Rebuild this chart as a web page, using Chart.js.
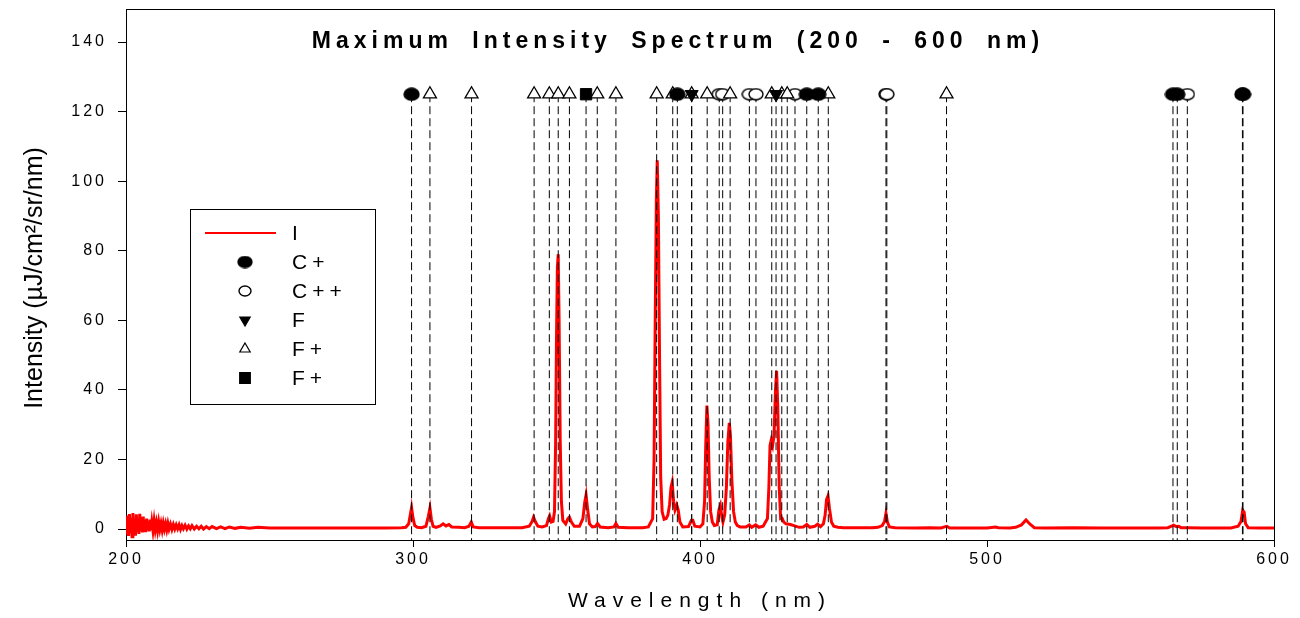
<!DOCTYPE html>
<html>
<head>
<meta charset="utf-8">
<script src="https://cdn.jsdelivr.net/npm/chart.js"></script>
<style>
  body { margin: 0; background: #fff; }
  #wrap { width: 1300px; height: 618px; }
</style>
</head>
<body>
<div id="wrap"><canvas id="spectrum" width="1300" height="618"></canvas></div>
<script>
// спектр: длина волны (нм) и интенсивность
const wavelength = [
  200.0, 200.3, 200.6, 200.9, 201.2, 201.5, 201.8, 202.1, 202.4, 202.7,
  203.0, 203.3, 203.6, 203.9, 204.2, 204.5, 204.8, 205.1, 205.4, 205.7,
  206.0, 206.3, 206.6, 206.9, 207.2, 207.5, 207.8, 208.1, 208.4, 208.7,
  209.0, 209.4, 209.8, 210.2, 210.6, 211.0, 211.4, 211.8, 212.2, 212.6,
  213.0, 213.4, 213.8, 214.2, 214.6, 215.0, 215.5, 216.0, 216.5, 217.0,
  217.5, 218.0, 218.5, 219.0, 219.5, 220.0, 220.6, 221.2, 221.8, 222.4,
  223.0, 223.8, 224.6, 225.4, 226.2, 227.0, 228.0, 229.0, 230.0, 231.5,
  233.0, 234.5, 236.0, 238.0, 240.0, 243.0, 246.0, 250.0, 260.0, 270.0,
  280.0, 290.0, 296.0,
  297.5, 298.5, 299.0, 299.5, 300.0, 300.6, 301.5, 303.0, 304.5, 305.3,
  305.9, 306.4, 307.0, 308.0, 309.5, 310.5, 311.5, 312.5, 313.5, 316.0,
  318.0, 319.5, 320.3, 321.0, 323.0, 330.0, 338.0, 340.5, 341.5, 342.0,
  342.7, 343.5, 345.0, 346.5, 347.2, 347.6, 348.2, 348.8, 349.3, 349.7,
  350.0, 350.3, 350.6, 350.9, 351.3, 351.7, 352.2, 353.2, 354.0, 354.5,
  355.2, 356.2, 358.0, 359.2, 359.8, 360.3, 360.8, 361.5, 362.5, 363.5,
  364.3, 365.2, 368.0, 370.0, 370.7, 371.5, 375.0, 380.0, 382.0, 383.5,
  384.0, 384.4, 384.8, 385.1, 385.5, 385.9, 386.3, 386.8, 387.5, 388.2,
  388.8, 389.4, 389.9, 390.3, 390.8, 391.3, 391.9, 392.4, 393.0, 394.0,
  396.0, 397.0, 397.5, 398.2, 400.0, 401.0, 401.6, 402.0, 402.4, 402.8,
  403.2, 403.7, 404.3, 405.0, 406.0, 406.6, 407.1, 407.6, 408.0, 408.6,
  409.2, 409.7, 410.2, 410.6, 411.1, 411.7, 412.3, 413.0, 414.0, 416.0,
  417.2, 418.0, 419.4, 420.5, 422.0, 423.5, 424.0, 424.4, 424.8, 425.3,
  425.8, 426.3, 426.7, 427.1, 427.6, 428.1, 428.6, 429.2, 430.0, 431.5,
  433.0, 434.5, 436.0, 437.2, 438.3, 440.0, 441.0, 442.0, 443.0, 443.6,
  444.1, 444.6, 445.1, 445.8, 446.6, 448.0, 450.0, 455.0, 460.0, 462.0,
  463.5, 464.3, 464.8, 465.3, 466.0, 468.0, 475.0, 480.0, 484.0, 485.5,
  486.0, 487.0, 495.0, 500.0, 503.0, 504.0, 508.0, 510.0, 512.0, 513.6,
  515.0, 516.5, 520.0, 530.0, 540.0, 550.0, 560.0, 563.0, 564.5, 565.0,
  566.0, 566.8, 567.6, 570.0, 575.0, 580.0, 585.0, 587.5, 588.5, 589.1,
  589.6, 590.1, 591.0, 595.0, 600.0
];
const intensity = [
  1.5, -1.6, 3.9, -2.0, 4.3, -1.2, 3.2, -2.2, 4.6, -1.5,
  2.6, -1.9, 4.2, -0.8, 3.0, -1.4, 4.4, -0.6, 3.4, -1.0,
  3.6, -0.5, 2.6, -0.9, 3.0, -0.4, 2.2, -0.7, 2.7, -0.3,
  2.0, -0.5, 2.4, -0.2, 1.8, -0.4, 2.0, -0.1, 1.6, -0.3,
  1.7, 0.0, 1.5, -0.2, 1.6, 0.0, 1.4, -0.1, 1.3, 0.0,
  1.2, 0.1, 1.2, -0.1, 1.0, 0.1, 1.1, 0.0, 0.9, 0.1,
  1.0, 0.0, 0.8, 0.1, 0.8, 0.0, 0.7, 0.1, 0.7, 0.1,
  0.6, 0.1, 0.6, 0.2, 0.5, 0.2, 0.5, 0.3, 0.3, 0.3,
  0.3, 0.3, 0.4,
  0.5, 1.5, 3.8, 6.2, 3.2, 1.0, 0.5, 0.4, 0.8, 3.5,
  6.0, 2.8, 0.8, 0.5, 0.9, 1.5, 0.9, 1.3, 0.6, 0.5,
  0.4, 0.8, 2.0, 0.6, 0.4, 0.4, 0.4, 0.8, 2.2, 3.4,
  2.0, 0.8, 0.6, 1.0, 3.0, 3.8, 2.0, 2.2, 5.0, 25.0,
  55.0, 75.0, 79.0, 60.0, 25.0, 8.0, 2.5, 1.5, 3.0, 3.4,
  2.0, 0.8, 0.8, 3.0, 7.5, 9.8, 6.0, 1.5, 0.6, 0.7,
  1.6, 0.6, 0.4, 0.6, 1.6, 0.5, 0.4, 0.4, 0.6, 3.0,
  20.0, 60.0, 95.0, 106.0, 90.0, 50.0, 15.0, 5.0, 2.8, 3.0,
  4.0, 7.0, 12.0, 13.4, 8.0, 5.5, 6.9, 5.5, 2.0, 0.6,
  0.7, 2.5, 2.5, 0.8, 0.6, 1.5, 8.0, 24.0, 35.5, 30.0,
  15.0, 5.0, 2.0, 1.0, 1.2, 5.5, 6.8, 3.5, 2.0, 4.0,
  12.0, 25.0, 30.5, 27.0, 14.0, 5.0, 2.0, 1.0, 0.6, 0.6,
  1.2, 0.5, 1.2, 0.5, 0.8, 3.0, 12.0, 24.0, 25.5, 24.0,
  27.0, 40.0, 45.5, 35.0, 12.0, 3.0, 3.1, 2.0, 1.5, 1.3,
  0.9, 0.5, 0.6, 1.3, 0.5, 0.8, 1.4, 0.7, 1.5, 4.0,
  8.5, 9.5, 6.0, 2.0, 0.8, 0.5, 0.4, 0.4, 0.4, 0.5,
  1.0, 2.2, 4.5, 2.0, 0.6, 0.4, 0.3, 0.4, 0.3, 0.7,
  0.8, 0.3, 0.3, 0.3, 0.6, 0.4, 0.3, 0.5, 1.2, 2.6,
  1.4, 0.4, 0.3, 0.4, 0.3, 0.3, 0.3, 0.4, 0.9, 1.1,
  0.7, 0.8, 0.4, 0.4, 0.3, 0.3, 0.3, 0.8, 2.2, 5.4,
  4.8, 1.5, 0.4, 0.3, 0.3
];

// положения линий (нм) по ионам
const cPlusLines = [299.5, 392.1, 437.2, 441.2, 564.8, 566.3, 589.0, 589.2];
const cPlusPlusLines = [406.7, 407.9, 417.2, 419.5, 433.1, 464.8, 465.1, 569.8];
const fLines = [397.1, 426.5];
const fPlusLines = [305.9, 320.4, 342.2, 347.5, 350.6, 354.5, 364.2, 370.7, 384.9,
  390.5, 397.1, 402.5, 410.5, 425.0, 428.5, 430.4, 444.7, 485.9];
const fPlusSquareLines = [360.3];
const markerLevel = 125;

const xTicks = [200, 300, 400, 500, 600];
const yTicks = [0, 20, 40, 60, 80, 100, 120, 140];
const yMin = -3.15;
const yMax = 149.5;

const FONT = '"Liberation Sans", Arial, sans-serif';

// эллипсы вместо кругов
function ellipseMark(w, h, filled) {
  const c = document.createElement('canvas');
  c.width = w + 2;
  c.height = h + 2;
  const g = c.getContext('2d');
  g.beginPath();
  g.ellipse(c.width / 2, c.height / 2, w / 2, h / 2, 0, 0, Math.PI * 2);
  g.fillStyle = filled ? '#000' : '#fff';
  g.fill();
  g.lineWidth = 1.4;
  g.strokeStyle = '#000';
  g.stroke();
  return c;
}

const toPoints = (xs, level) => xs.map(x => ({x: x, y: level}));

// пунктирные линии от маркера до оси
const allLines = [].concat(cPlusLines, cPlusPlusLines, fLines, fPlusLines, fPlusSquareLines)
  .sort((a, b) => a - b);
const dropData = [];
allLines.forEach(x => {
  dropData.push({x: x, y: markerLevel}, {x: x, y: yMin}, {x: x, y: null});
});

const datasets = [
  {
    label: 'I',
    data: wavelength.map((x, i) => ({x: x, y: intensity[i]})),
    showLine: true,
    borderColor: '#ff0000',
    borderWidth: 3,
    pointRadius: 0,
    order: 3,
  },
  {
    label: 'drop',
    data: dropData,
    showLine: true,
    spanGaps: false,
    borderColor: '#000',
    borderWidth: 1,
    borderDash: [8, 4],
    pointRadius: 0,
    order: 2,
  },
  {
    label: 'F +',
    data: toPoints(fPlusLines, markerLevel),
    pointStyle: 'triangle',
    pointRadius: 7.5,
    backgroundColor: '#fff',
    borderColor: '#000',
    borderWidth: 1.3,
    order: 1,
  },
  {
    label: 'F +',
    data: toPoints(fPlusSquareLines, markerLevel),
    pointStyle: 'rect',
    pointRadius: 8,
    backgroundColor: '#000',
    borderColor: '#000',
    borderWidth: 1,
    order: 1,
  },
  {
    label: 'C ++',
    data: toPoints(cPlusPlusLines, markerLevel),
    pointStyle: ellipseMark(14, 11, false),
    order: 1,
  },
  {
    label: 'C +',
    data: toPoints(cPlusLines, markerLevel),
    pointStyle: ellipseMark(15, 12, true),
    order: 0,
  },
  {
    label: 'F',
    data: toPoints(fLines, markerLevel),
    pointStyle: 'triangle',
    rotation: 180,
    pointRadius: 7.5,
    backgroundColor: '#000',
    borderColor: '#000',
    borderWidth: 1,
    order: 0,
  },
];

// легенда: порядок строк
const legendRows = [
  {text: 'I', line: true},
  {text: 'C+', style: ellipseMark(14, 11, true)},
  {text: 'C++', style: ellipseMark(12, 10, false)},
  {text: 'F', style: 'triangle', rotation: 180, fill: '#000'},
  {text: 'F+', style: 'triangle', fill: '#fff'},
  {text: 'F+', style: 'rect', fill: '#000'},
];

const spacingPlugin = {
  id: 'spacing',
  beforeDraw(chart) {
    chart.ctx.letterSpacing = '3px';
  },
  beforeDatasetsDraw(chart) {
    const ctx = chart.ctx;
    const a = chart.chartArea;
    ctx.letterSpacing = '0px';
    ctx.save();
    ctx.strokeStyle = '#000';
    ctx.lineWidth = 1;
    ctx.strokeRect(Math.round(a.left) + 0.5, Math.round(a.top) + 0.5,
      Math.round(a.right - a.left), Math.round(a.bottom - a.top));
    ctx.restore();
  },
  afterDraw(chart) {
    const ctx = chart.ctx;
    ctx.save();
    ctx.fillStyle = '#000';
    ctx.textBaseline = 'middle';

    // заголовок
    ctx.font = 'bold 23px ' + FONT;
    ctx.letterSpacing = '5px';
    ctx.wordSpacing = '8px';
    ctx.textAlign = 'center';
    ctx.fillText('Maximum Intensity Spectrum (200 - 600 nm)', 678, 42);
    ctx.wordSpacing = '0px';

    // подпись оси X
    ctx.font = '21px ' + FONT;
    ctx.letterSpacing = '7px';
    ctx.fillText('Wavelength (nm)', 700, 601);

    // подпись оси Y
    ctx.letterSpacing = '0px';
    ctx.font = '25px ' + FONT;
    ctx.save();
    ctx.translate(35, 278);
    ctx.rotate(-Math.PI / 2);
    ctx.fillText('Intensity (\u00b5J/cm\u00b2/sr/nm)', 0, 0);
    ctx.restore();

    // легенда
    const bx = 190, by = 209, bw = 185, bh = 195;
    ctx.fillStyle = '#fff';
    ctx.fillRect(bx, by, bw, bh);
    ctx.strokeStyle = '#000';
    ctx.lineWidth = 1;
    ctx.strokeRect(bx + 0.5, by + 0.5, bw, bh);
    ctx.font = '21px ' + FONT;
    ctx.letterSpacing = '5px';
    ctx.textAlign = 'left';
    legendRows.forEach((row, i) => {
      const y = 233 + i * 29;
      if (row.line) {
        ctx.strokeStyle = '#ff0000';
        ctx.lineWidth = 2;
        ctx.beginPath();
        ctx.moveTo(205, y);
        ctx.lineTo(276, y);
        ctx.stroke();
      } else {
        ctx.fillStyle = row.fill || '#000';
        ctx.strokeStyle = '#000';
        ctx.lineWidth = 1.2;
        Chart.helpers.drawPoint(ctx, {
          pointStyle: row.style,
          radius: row.style === 'rect' ? 7.5 : 6,
          rotation: row.rotation || 0,
          borderWidth: 1.2,
        }, 245, y);
      }
      ctx.fillStyle = '#000';
      ctx.fillText(row.text, 292, y + 1);
    });
    ctx.restore();
  },
};

const ctx = document.getElementById('spectrum').getContext('2d');
const chart = new Chart(ctx, {
  type: 'scatter',
  data: {datasets: datasets},
  options: {
    responsive: false,
    animation: false,
    layout: {padding: {top: 3, right: 26, left: 0, bottom: 0}},
    plugins: {
      legend: {display: false},
      tooltip: {enabled: false},
    },
    scales: {
      x: {
        type: 'linear',
        min: 200,
        max: 600,
        afterBuildTicks: s => { s.ticks = xTicks.map(v => ({value: v})); },
        afterFit: s => { s.height = 78; s.paddingLeft = 0; s.paddingRight = 0; },
        ticks: {color: '#000', font: {size: 16, family: FONT}, padding: 3},
        grid: {drawOnChartArea: false, drawTicks: true, tickLength: 7, color: '#000'},
        border: {color: '#000', width: 1},
      },
      y: {
        min: yMin,
        max: yMax,
        afterBuildTicks: s => { s.ticks = yTicks.map(v => ({value: v})); },
        afterFit: s => { s.width = 126; s.paddingTop = 0; s.paddingBottom = 0; },
        ticks: {color: '#000', font: {size: 16, family: FONT, lineHeight: 0.85}, padding: 11},
        grid: {drawOnChartArea: false, drawTicks: true, tickLength: 8, color: '#000'},
        border: {color: '#000', width: 1},
      },
    },
  },
  plugins: [spacingPlugin],
});
</script>
</body>
</html>
